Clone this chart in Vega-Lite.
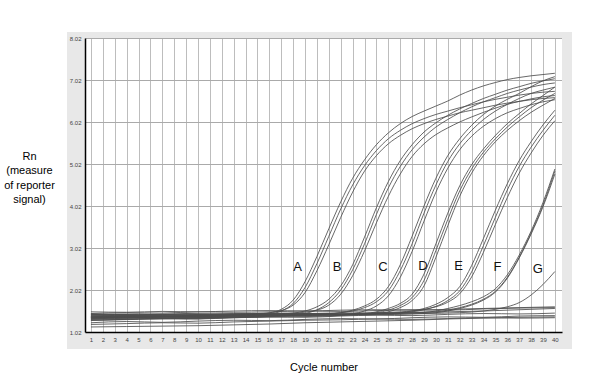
{
"$schema": "https://vega.github.io/schema/vega-lite/v6.json",
"width": 477,
"height": 294,
"autosize": {"type": "none"},
"padding": {"left": 85, "top": 38, "right": 38, "bottom": 50},
"background": "white",
"config": {"view": {"stroke": null, "fill": "white"}, "font": "Liberation Sans"},
"resolve": {"axis": {"x": "independent", "y": "independent"}},
"datasets": {
"curves": [
{"s":"A1","c":1,"v":1.36},{"s":"A1","c":5,"v":1.40},{"s":"A1","c":9,"v":1.38},{"s":"A1","c":13,"v":1.42},{"s":"A1","c":15,"v":1.44},{"s":"A1","c":16,"v":1.47},{"s":"A1","c":17,"v":1.56},{"s":"A1","c":18,"v":1.78},{"s":"A1","c":19,"v":2.22},{"s":"A1","c":20,"v":2.82},{"s":"A1","c":21,"v":3.48},{"s":"A1","c":22,"v":4.12},{"s":"A1","c":23,"v":4.68},{"s":"A1","c":24,"v":5.12},{"s":"A1","c":25,"v":5.48},{"s":"A1","c":26,"v":5.76},{"s":"A1","c":27,"v":5.98},{"s":"A1","c":28,"v":6.15},{"s":"A1","c":29,"v":6.28},{"s":"A1","c":30,"v":6.4},{"s":"A1","c":31,"v":6.52},{"s":"A1","c":32,"v":6.66},{"s":"A1","c":33,"v":6.78},{"s":"A1","c":34,"v":6.88},{"s":"A1","c":35,"v":6.96},{"s":"A1","c":36,"v":7.03},{"s":"A1","c":37,"v":7.08},{"s":"A1","c":38,"v":7.12},{"s":"A1","c":39,"v":7.15},{"s":"A1","c":40,"v":7.18},
{"s":"A2","c":1,"v":1.3},{"s":"A2","c":5,"v":1.33},{"s":"A2","c":9,"v":1.35},{"s":"A2","c":13,"v":1.38},{"s":"A2","c":15,"v":1.4},{"s":"A2","c":16,"v":1.44},{"s":"A2","c":17,"v":1.52},{"s":"A2","c":18,"v":1.7},{"s":"A2","c":19,"v":2.08},{"s":"A2","c":20,"v":2.65},{"s":"A2","c":21,"v":3.3},{"s":"A2","c":22,"v":3.95},{"s":"A2","c":23,"v":4.52},{"s":"A2","c":24,"v":4.98},{"s":"A2","c":25,"v":5.34},{"s":"A2","c":26,"v":5.62},{"s":"A2","c":27,"v":5.82},{"s":"A2","c":28,"v":5.98},{"s":"A2","c":29,"v":6.1},{"s":"A2","c":30,"v":6.2},{"s":"A2","c":31,"v":6.28},{"s":"A2","c":32,"v":6.36},{"s":"A2","c":33,"v":6.43},{"s":"A2","c":34,"v":6.5},{"s":"A2","c":35,"v":6.56},{"s":"A2","c":36,"v":6.61},{"s":"A2","c":37,"v":6.66},{"s":"A2","c":38,"v":6.7},{"s":"A2","c":39,"v":6.73},{"s":"A2","c":40,"v":6.75},
{"s":"A3","c":1,"v":1.42},{"s":"A3","c":5,"v":1.44},{"s":"A3","c":9,"v":1.42},{"s":"A3","c":13,"v":1.45},{"s":"A3","c":15,"v":1.46},{"s":"A3","c":16,"v":1.48},{"s":"A3","c":17,"v":1.53},{"s":"A3","c":18,"v":1.66},{"s":"A3","c":19,"v":1.96},{"s":"A3","c":20,"v":2.48},{"s":"A3","c":21,"v":3.1},{"s":"A3","c":22,"v":3.75},{"s":"A3","c":23,"v":4.35},{"s":"A3","c":24,"v":4.85},{"s":"A3","c":25,"v":5.22},{"s":"A3","c":26,"v":5.5},{"s":"A3","c":27,"v":5.7},{"s":"A3","c":28,"v":5.86},{"s":"A3","c":29,"v":5.98},{"s":"A3","c":30,"v":6.08},{"s":"A3","c":31,"v":6.16},{"s":"A3","c":32,"v":6.24},{"s":"A3","c":33,"v":6.3},{"s":"A3","c":34,"v":6.36},{"s":"A3","c":35,"v":6.42},{"s":"A3","c":36,"v":6.47},{"s":"A3","c":37,"v":6.51},{"s":"A3","c":38,"v":6.55},{"s":"A3","c":39,"v":6.58},{"s":"A3","c":40,"v":6.6},
{"s":"B1","c":1,"v":1.38},{"s":"B1","c":5,"v":1.36},{"s":"B1","c":9,"v":1.4},{"s":"B1","c":13,"v":1.42},{"s":"B1","c":17,"v":1.45},{"s":"B1","c":18,"v":1.47},{"s":"B1","c":19,"v":1.52},{"s":"B1","c":20,"v":1.62},{"s":"B1","c":21,"v":1.8},{"s":"B1","c":22,"v":2.12},{"s":"B1","c":23,"v":2.62},{"s":"B1","c":24,"v":3.28},{"s":"B1","c":25,"v":3.98},{"s":"B1","c":26,"v":4.6},{"s":"B1","c":27,"v":5.1},{"s":"B1","c":28,"v":5.48},{"s":"B1","c":29,"v":5.78},{"s":"B1","c":30,"v":6.0},{"s":"B1","c":31,"v":6.18},{"s":"B1","c":32,"v":6.33},{"s":"B1","c":33,"v":6.46},{"s":"B1","c":34,"v":6.58},{"s":"B1","c":35,"v":6.68},{"s":"B1","c":36,"v":6.78},{"s":"B1","c":37,"v":6.86},{"s":"B1","c":38,"v":6.94},{"s":"B1","c":39,"v":7.0},{"s":"B1","c":40,"v":7.05},
{"s":"B2","c":1,"v":1.32},{"s":"B2","c":5,"v":1.35},{"s":"B2","c":9,"v":1.33},{"s":"B2","c":13,"v":1.37},{"s":"B2","c":17,"v":1.4},{"s":"B2","c":18,"v":1.42},{"s":"B2","c":19,"v":1.46},{"s":"B2","c":20,"v":1.55},{"s":"B2","c":21,"v":1.72},{"s":"B2","c":22,"v":2.02},{"s":"B2","c":23,"v":2.5},{"s":"B2","c":24,"v":3.12},{"s":"B2","c":25,"v":3.82},{"s":"B2","c":26,"v":4.45},{"s":"B2","c":27,"v":4.96},{"s":"B2","c":28,"v":5.36},{"s":"B2","c":29,"v":5.66},{"s":"B2","c":30,"v":5.9},{"s":"B2","c":31,"v":6.08},{"s":"B2","c":32,"v":6.24},{"s":"B2","c":33,"v":6.38},{"s":"B2","c":34,"v":6.5},{"s":"B2","c":35,"v":6.6},{"s":"B2","c":36,"v":6.7},{"s":"B2","c":37,"v":6.78},{"s":"B2","c":38,"v":6.85},{"s":"B2","c":39,"v":6.91},{"s":"B2","c":40,"v":6.95},
{"s":"B3","c":1,"v":1.44},{"s":"B3","c":5,"v":1.42},{"s":"B3","c":9,"v":1.45},{"s":"B3","c":13,"v":1.44},{"s":"B3","c":17,"v":1.46},{"s":"B3","c":18,"v":1.47},{"s":"B3","c":19,"v":1.49},{"s":"B3","c":20,"v":1.54},{"s":"B3","c":21,"v":1.66},{"s":"B3","c":22,"v":1.92},{"s":"B3","c":23,"v":2.36},{"s":"B3","c":24,"v":2.95},{"s":"B3","c":25,"v":3.62},{"s":"B3","c":26,"v":4.25},{"s":"B3","c":27,"v":4.78},{"s":"B3","c":28,"v":5.2},{"s":"B3","c":29,"v":5.5},{"s":"B3","c":30,"v":5.72},{"s":"B3","c":31,"v":5.88},{"s":"B3","c":32,"v":6.02},{"s":"B3","c":33,"v":6.14},{"s":"B3","c":34,"v":6.25},{"s":"B3","c":35,"v":6.35},{"s":"B3","c":36,"v":6.44},{"s":"B3","c":37,"v":6.51},{"s":"B3","c":38,"v":6.57},{"s":"B3","c":39,"v":6.62},{"s":"B3","c":40,"v":6.65},
{"s":"C1","c":1,"v":1.35},{"s":"C1","c":5,"v":1.38},{"s":"C1","c":9,"v":1.36},{"s":"C1","c":13,"v":1.4},{"s":"C1","c":17,"v":1.42},{"s":"C1","c":21,"v":1.45},{"s":"C1","c":22,"v":1.48},{"s":"C1","c":23,"v":1.54},{"s":"C1","c":24,"v":1.64},{"s":"C1","c":25,"v":1.8},{"s":"C1","c":26,"v":2.1},{"s":"C1","c":27,"v":2.62},{"s":"C1","c":28,"v":3.3},{"s":"C1","c":29,"v":4.02},{"s":"C1","c":30,"v":4.68},{"s":"C1","c":31,"v":5.22},{"s":"C1","c":32,"v":5.62},{"s":"C1","c":33,"v":5.94},{"s":"C1","c":34,"v":6.2},{"s":"C1","c":35,"v":6.4},{"s":"C1","c":36,"v":6.56},{"s":"C1","c":37,"v":6.7},{"s":"C1","c":38,"v":6.86},{"s":"C1","c":39,"v":7.0},{"s":"C1","c":40,"v":7.1},
{"s":"C2","c":1,"v":1.4},{"s":"C2","c":5,"v":1.42},{"s":"C2","c":9,"v":1.4},{"s":"C2","c":13,"v":1.43},{"s":"C2","c":17,"v":1.44},{"s":"C2","c":21,"v":1.46},{"s":"C2","c":22,"v":1.48},{"s":"C2","c":23,"v":1.52},{"s":"C2","c":24,"v":1.6},{"s":"C2","c":25,"v":1.74},{"s":"C2","c":26,"v":2.0},{"s":"C2","c":27,"v":2.48},{"s":"C2","c":28,"v":3.12},{"s":"C2","c":29,"v":3.85},{"s":"C2","c":30,"v":4.52},{"s":"C2","c":31,"v":5.08},{"s":"C2","c":32,"v":5.5},{"s":"C2","c":33,"v":5.82},{"s":"C2","c":34,"v":6.08},{"s":"C2","c":35,"v":6.28},{"s":"C2","c":36,"v":6.44},{"s":"C2","c":37,"v":6.58},{"s":"C2","c":38,"v":6.7},{"s":"C2","c":39,"v":6.78},{"s":"C2","c":40,"v":6.85},
{"s":"C3","c":1,"v":1.3},{"s":"C3","c":5,"v":1.32},{"s":"C3","c":9,"v":1.34},{"s":"C3","c":13,"v":1.36},{"s":"C3","c":17,"v":1.38},{"s":"C3","c":21,"v":1.4},{"s":"C3","c":22,"v":1.42},{"s":"C3","c":23,"v":1.45},{"s":"C3","c":24,"v":1.52},{"s":"C3","c":25,"v":1.64},{"s":"C3","c":26,"v":1.88},{"s":"C3","c":27,"v":2.32},{"s":"C3","c":28,"v":2.94},{"s":"C3","c":29,"v":3.66},{"s":"C3","c":30,"v":4.35},{"s":"C3","c":31,"v":4.92},{"s":"C3","c":32,"v":5.36},{"s":"C3","c":33,"v":5.68},{"s":"C3","c":34,"v":5.92},{"s":"C3","c":35,"v":6.1},{"s":"C3","c":36,"v":6.24},{"s":"C3","c":37,"v":6.34},{"s":"C3","c":38,"v":6.43},{"s":"C3","c":39,"v":6.5},{"s":"C3","c":40,"v":6.55},
{"s":"D1","c":1,"v":1.38},{"s":"D1","c":5,"v":1.4},{"s":"D1","c":9,"v":1.38},{"s":"D1","c":13,"v":1.41},{"s":"D1","c":17,"v":1.43},{"s":"D1","c":21,"v":1.44},{"s":"D1","c":24,"v":1.46},{"s":"D1","c":25,"v":1.5},{"s":"D1","c":26,"v":1.58},{"s":"D1","c":27,"v":1.7},{"s":"D1","c":28,"v":1.92},{"s":"D1","c":29,"v":2.4},{"s":"D1","c":30,"v":3.12},{"s":"D1","c":31,"v":3.85},{"s":"D1","c":32,"v":4.5},{"s":"D1","c":33,"v":5.0},{"s":"D1","c":34,"v":5.38},{"s":"D1","c":35,"v":5.7},{"s":"D1","c":36,"v":5.98},{"s":"D1","c":37,"v":6.22},{"s":"D1","c":38,"v":6.45},{"s":"D1","c":39,"v":6.65},{"s":"D1","c":40,"v":6.85},
{"s":"D2","c":1,"v":1.45},{"s":"D2","c":5,"v":1.43},{"s":"D2","c":9,"v":1.46},{"s":"D2","c":13,"v":1.44},{"s":"D2","c":17,"v":1.47},{"s":"D2","c":21,"v":1.45},{"s":"D2","c":24,"v":1.45},{"s":"D2","c":25,"v":1.48},{"s":"D2","c":26,"v":1.54},{"s":"D2","c":27,"v":1.65},{"s":"D2","c":28,"v":1.84},{"s":"D2","c":29,"v":2.25},{"s":"D2","c":30,"v":2.96},{"s":"D2","c":31,"v":3.7},{"s":"D2","c":32,"v":4.38},{"s":"D2","c":33,"v":4.9},{"s":"D2","c":34,"v":5.3},{"s":"D2","c":35,"v":5.62},{"s":"D2","c":36,"v":5.9},{"s":"D2","c":37,"v":6.14},{"s":"D2","c":38,"v":6.36},{"s":"D2","c":39,"v":6.54},{"s":"D2","c":40,"v":6.7},
{"s":"D3","c":1,"v":1.33},{"s":"D3","c":5,"v":1.36},{"s":"D3","c":9,"v":1.35},{"s":"D3","c":13,"v":1.38},{"s":"D3","c":17,"v":1.4},{"s":"D3","c":21,"v":1.42},{"s":"D3","c":24,"v":1.44},{"s":"D3","c":25,"v":1.46},{"s":"D3","c":26,"v":1.5},{"s":"D3","c":27,"v":1.6},{"s":"D3","c":28,"v":1.77},{"s":"D3","c":29,"v":2.12},{"s":"D3","c":30,"v":2.8},{"s":"D3","c":31,"v":3.55},{"s":"D3","c":32,"v":4.25},{"s":"D3","c":33,"v":4.8},{"s":"D3","c":34,"v":5.22},{"s":"D3","c":35,"v":5.55},{"s":"D3","c":36,"v":5.82},{"s":"D3","c":37,"v":6.05},{"s":"D3","c":38,"v":6.25},{"s":"D3","c":39,"v":6.42},{"s":"D3","c":40,"v":6.58},
{"s":"E1","c":1,"v":1.4},{"s":"E1","c":5,"v":1.38},{"s":"E1","c":9,"v":1.41},{"s":"E1","c":13,"v":1.4},{"s":"E1","c":17,"v":1.43},{"s":"E1","c":21,"v":1.44},{"s":"E1","c":25,"v":1.46},{"s":"E1","c":27,"v":1.48},{"s":"E1","c":28,"v":1.52},{"s":"E1","c":29,"v":1.58},{"s":"E1","c":30,"v":1.68},{"s":"E1","c":31,"v":1.84},{"s":"E1","c":32,"v":2.1},{"s":"E1","c":33,"v":2.6},{"s":"E1","c":34,"v":3.25},{"s":"E1","c":35,"v":3.92},{"s":"E1","c":36,"v":4.55},{"s":"E1","c":37,"v":5.1},{"s":"E1","c":38,"v":5.55},{"s":"E1","c":39,"v":5.95},{"s":"E1","c":40,"v":6.3},
{"s":"E2","c":1,"v":1.36},{"s":"E2","c":5,"v":1.39},{"s":"E2","c":9,"v":1.37},{"s":"E2","c":13,"v":1.4},{"s":"E2","c":17,"v":1.41},{"s":"E2","c":21,"v":1.43},{"s":"E2","c":25,"v":1.45},{"s":"E2","c":27,"v":1.47},{"s":"E2","c":28,"v":1.5},{"s":"E2","c":29,"v":1.55},{"s":"E2","c":30,"v":1.63},{"s":"E2","c":31,"v":1.77},{"s":"E2","c":32,"v":2.0},{"s":"E2","c":33,"v":2.45},{"s":"E2","c":34,"v":3.08},{"s":"E2","c":35,"v":3.75},{"s":"E2","c":36,"v":4.4},{"s":"E2","c":37,"v":4.96},{"s":"E2","c":38,"v":5.42},{"s":"E2","c":39,"v":5.82},{"s":"E2","c":40,"v":6.18},
{"s":"E3","c":1,"v":1.44},{"s":"E3","c":5,"v":1.45},{"s":"E3","c":9,"v":1.43},{"s":"E3","c":13,"v":1.46},{"s":"E3","c":17,"v":1.45},{"s":"E3","c":21,"v":1.47},{"s":"E3","c":25,"v":1.48},{"s":"E3","c":27,"v":1.5},{"s":"E3","c":28,"v":1.52},{"s":"E3","c":29,"v":1.56},{"s":"E3","c":30,"v":1.62},{"s":"E3","c":31,"v":1.73},{"s":"E3","c":32,"v":1.93},{"s":"E3","c":33,"v":2.33},{"s":"E3","c":34,"v":2.92},{"s":"E3","c":35,"v":3.58},{"s":"E3","c":36,"v":4.22},{"s":"E3","c":37,"v":4.8},{"s":"E3","c":38,"v":5.28},{"s":"E3","c":39,"v":5.7},{"s":"E3","c":40,"v":6.05},
{"s":"F1","c":1,"v":1.38},{"s":"F1","c":5,"v":1.41},{"s":"F1","c":9,"v":1.39},{"s":"F1","c":13,"v":1.42},{"s":"F1","c":17,"v":1.41},{"s":"F1","c":21,"v":1.44},{"s":"F1","c":25,"v":1.45},{"s":"F1","c":28,"v":1.47},{"s":"F1","c":30,"v":1.52},{"s":"F1","c":31,"v":1.58},{"s":"F1","c":32,"v":1.65},{"s":"F1","c":33,"v":1.74},{"s":"F1","c":34,"v":1.86},{"s":"F1","c":35,"v":2.05},{"s":"F1","c":36,"v":2.38},{"s":"F1","c":37,"v":2.85},{"s":"F1","c":38,"v":3.42},{"s":"F1","c":39,"v":4.1},{"s":"F1","c":40,"v":4.9},
{"s":"F2","c":1,"v":1.34},{"s":"F2","c":5,"v":1.36},{"s":"F2","c":9,"v":1.38},{"s":"F2","c":13,"v":1.37},{"s":"F2","c":17,"v":1.4},{"s":"F2","c":21,"v":1.41},{"s":"F2","c":25,"v":1.43},{"s":"F2","c":28,"v":1.45},{"s":"F2","c":30,"v":1.48},{"s":"F2","c":31,"v":1.52},{"s":"F2","c":32,"v":1.58},{"s":"F2","c":33,"v":1.66},{"s":"F2","c":34,"v":1.78},{"s":"F2","c":35,"v":1.97},{"s":"F2","c":36,"v":2.3},{"s":"F2","c":37,"v":2.78},{"s":"F2","c":38,"v":3.35},{"s":"F2","c":39,"v":4.0},{"s":"F2","c":40,"v":4.78},
{"s":"F3","c":1,"v":1.42},{"s":"F3","c":5,"v":1.4},{"s":"F3","c":9,"v":1.43},{"s":"F3","c":13,"v":1.44},{"s":"F3","c":17,"v":1.45},{"s":"F3","c":21,"v":1.44},{"s":"F3","c":25,"v":1.46},{"s":"F3","c":28,"v":1.48},{"s":"F3","c":30,"v":1.5},{"s":"F3","c":31,"v":1.54},{"s":"F3","c":32,"v":1.6},{"s":"F3","c":33,"v":1.68},{"s":"F3","c":34,"v":1.8},{"s":"F3","c":35,"v":1.99},{"s":"F3","c":36,"v":2.32},{"s":"F3","c":37,"v":2.8},{"s":"F3","c":38,"v":3.38},{"s":"F3","c":39,"v":4.04},{"s":"F3","c":40,"v":4.85},
{"s":"G1","c":1,"v":1.36},{"s":"G1","c":5,"v":1.38},{"s":"G1","c":9,"v":1.4},{"s":"G1","c":13,"v":1.41},{"s":"G1","c":17,"v":1.42},{"s":"G1","c":21,"v":1.43},{"s":"G1","c":25,"v":1.44},{"s":"G1","c":29,"v":1.46},{"s":"G1","c":32,"v":1.48},{"s":"G1","c":34,"v":1.52},{"s":"G1","c":35,"v":1.56},{"s":"G1","c":36,"v":1.62},{"s":"G1","c":37,"v":1.72},{"s":"G1","c":38,"v":1.9},{"s":"G1","c":39,"v":2.15},{"s":"G1","c":40,"v":2.46},
{"s":"N1","c":1,"v":1.14},{"s":"N1","c":4,"v":1.15},{"s":"N1","c":7,"v":1.16},{"s":"N1","c":10,"v":1.17},{"s":"N1","c":13,"v":1.19},{"s":"N1","c":16,"v":1.21},{"s":"N1","c":19,"v":1.24},{"s":"N1","c":22,"v":1.26},{"s":"N1","c":25,"v":1.28},{"s":"N1","c":28,"v":1.3},{"s":"N1","c":31,"v":1.33},{"s":"N1","c":34,"v":1.35},{"s":"N1","c":37,"v":1.37},{"s":"N1","c":40,"v":1.38},
{"s":"N2","c":1,"v":1.24},{"s":"N2","c":4,"v":1.27},{"s":"N2","c":7,"v":1.25},{"s":"N2","c":10,"v":1.28},{"s":"N2","c":13,"v":1.3},{"s":"N2","c":16,"v":1.29},{"s":"N2","c":19,"v":1.32},{"s":"N2","c":22,"v":1.34},{"s":"N2","c":25,"v":1.33},{"s":"N2","c":28,"v":1.36},{"s":"N2","c":31,"v":1.38},{"s":"N2","c":34,"v":1.37},{"s":"N2","c":37,"v":1.4},{"s":"N2","c":40,"v":1.41},
{"s":"N3","c":1,"v":1.3},{"s":"N3","c":4,"v":1.32},{"s":"N3","c":7,"v":1.35},{"s":"N3","c":10,"v":1.33},{"s":"N3","c":13,"v":1.36},{"s":"N3","c":16,"v":1.38},{"s":"N3","c":19,"v":1.37},{"s":"N3","c":22,"v":1.4},{"s":"N3","c":25,"v":1.42},{"s":"N3","c":28,"v":1.41},{"s":"N3","c":31,"v":1.44},{"s":"N3","c":34,"v":1.46},{"s":"N3","c":37,"v":1.45},{"s":"N3","c":40,"v":1.47},
{"s":"N4","c":1,"v":1.46},{"s":"N4","c":4,"v":1.48},{"s":"N4","c":7,"v":1.47},{"s":"N4","c":10,"v":1.5},{"s":"N4","c":13,"v":1.49},{"s":"N4","c":16,"v":1.5},{"s":"N4","c":19,"v":1.52},{"s":"N4","c":22,"v":1.51},{"s":"N4","c":25,"v":1.53},{"s":"N4","c":28,"v":1.55},{"s":"N4","c":31,"v":1.54},{"s":"N4","c":34,"v":1.57},{"s":"N4","c":37,"v":1.59},{"s":"N4","c":40,"v":1.6},
{"s":"N5","c":1,"v":1.38},{"s":"N5","c":4,"v":1.36},{"s":"N5","c":7,"v":1.39},{"s":"N5","c":10,"v":1.41},{"s":"N5","c":13,"v":1.4},{"s":"N5","c":16,"v":1.43},{"s":"N5","c":19,"v":1.45},{"s":"N5","c":22,"v":1.44},{"s":"N5","c":25,"v":1.47},{"s":"N5","c":28,"v":1.49},{"s":"N5","c":31,"v":1.5},{"s":"N5","c":34,"v":1.52},{"s":"N5","c":37,"v":1.55},{"s":"N5","c":40,"v":1.58},
{"s":"N6","c":1,"v":1.2},{"s":"N6","c":4,"v":1.22},{"s":"N6","c":7,"v":1.24},{"s":"N6","c":10,"v":1.23},{"s":"N6","c":13,"v":1.26},{"s":"N6","c":16,"v":1.28},{"s":"N6","c":19,"v":1.3},{"s":"N6","c":22,"v":1.31},{"s":"N6","c":25,"v":1.33},{"s":"N6","c":28,"v":1.32},{"s":"N6","c":31,"v":1.34},{"s":"N6","c":34,"v":1.36},{"s":"N6","c":37,"v":1.35},{"s":"N6","c":40,"v":1.36},
{"s":"N7","c":1,"v":1.5},{"s":"N7","c":4,"v":1.49},{"s":"N7","c":7,"v":1.51},{"s":"N7","c":10,"v":1.5},{"s":"N7","c":13,"v":1.52},{"s":"N7","c":16,"v":1.53},{"s":"N7","c":19,"v":1.52},{"s":"N7","c":22,"v":1.54},{"s":"N7","c":25,"v":1.55},{"s":"N7","c":28,"v":1.54},{"s":"N7","c":31,"v":1.56},{"s":"N7","c":34,"v":1.58},{"s":"N7","c":37,"v":1.6},{"s":"N7","c":40,"v":1.62}
],
"letters": [
{"t":"A","c":18.38,"v":2.57},{"t":"B","c":21.69,"v":2.57},{"t":"C","c":25.54,"v":2.57},{"t":"D","c":28.9,"v":2.58},{"t":"E","c":31.9,"v":2.58},{"t":"F","c":35.18,"v":2.57},{"t":"G","c":38.56,"v":2.51}
]
},
"layer": [
{
"data": {"values": [{}]},
"mark": {"type": "rect", "fill": "#e8e8e8"},
"encoding": {
"x": {"datum": -1.01, "type": "quantitative", "scale": {"domain": [0.5, 40.6], "nice": false, "zero": false},
 "axis": {"orient": "bottom", "grid": true, "gridColor": "#bdbdbd", "gridWidth": 1, "labels": false, "ticks": false, "domain": false, "title": null, "zindex": 0,
 "values": [1,2,3,4,5,6,7,8,9,10,11,12,13,14,15,16,17,18,19,20,21,22,23,24,25,26,27,28,29,30,31,32,33,34,35,36,37,38,39,40,40.6]}},
"x2": {"datum": 0.5},
"y": {"datum": 0.615, "type": "quantitative", "scale": {"domain": [1.02, 8.02], "nice": false, "zero": false},
 "axis": {"orient": "left", "grid": true, "gridColor": "#aaaaaa", "gridWidth": 1, "labels": false, "ticks": false, "domain": false, "title": null, "zindex": 0,
 "values": [1.02, 2.02, 3.02, 4.02, 5.02, 6.02, 7.02, 8.02]}},
"y2": {"datum": 8.163}
}
},
{
"data": {"values": [{}]},
"mark": {"type": "rect", "fill": "#e8e8e8"},
"encoding": {
"x": {"datum": 40.6, "type": "quantitative", "scale": {"domain": [0.5, 40.6], "nice": false, "zero": false}, "axis": null},
"x2": {"datum": 41.44},
"y": {"datum": 0.615, "type": "quantitative", "scale": {"domain": [1.02, 8.02], "nice": false, "zero": false}, "axis": null},
"y2": {"datum": 8.163}
}
},
{
"data": {"values": [{}]},
"mark": {"type": "rect", "fill": "#e8e8e8"},
"encoding": {
"x": {"datum": 0.5, "type": "quantitative", "scale": {"domain": [0.5, 40.6], "nice": false, "zero": false}, "axis": null},
"x2": {"datum": 40.6},
"y": {"datum": 8.02, "type": "quantitative", "scale": {"domain": [1.02, 8.02], "nice": false, "zero": false}, "axis": null},
"y2": {"datum": 8.163}
}
},
{
"data": {"values": [{}]},
"mark": {"type": "rect", "fill": "#e8e8e8"},
"encoding": {
"x": {"datum": 0.5, "type": "quantitative", "scale": {"domain": [0.5, 40.6], "nice": false, "zero": false}, "axis": null},
"x2": {"datum": 40.6},
"y": {"datum": 0.615, "type": "quantitative", "scale": {"domain": [1.02, 8.02], "nice": false, "zero": false}, "axis": null},
"y2": {"datum": 1.02}
}
},
{
"data": {"name": "curves"},
"mark": {"type": "line", "interpolate": "monotone", "stroke": "#4d4d4d", "strokeWidth": 0.85},
"encoding": {
"x": {"field": "c", "type": "quantitative", "scale": {"domain": [0.5, 40.6], "nice": false, "zero": false},
 "axis": {"orient": "bottom", "grid": false, "ticks": false, "domain": true, "domainColor": "#000000", "domainWidth": 1.5, "zindex": 1,
 "values": [1,2,3,4,5,6,7,8,9,10,11,12,13,14,15,16,17,18,19,20,21,22,23,24,25,26,27,28,29,30,31,32,33,34,35,36,37,38,39,40],
 "format": "d", "labelFontSize": 6, "labelColor": "#444444", "labelPadding": 4, "labelOverlap": false, "labelFlush": false,
 "title": "Cycle number", "titleFontSize": 11, "titleFontWeight": "normal", "titleColor": "#000000", "titleY": 38, "titleBaseline": "alphabetic"}},
"y": {"field": "v", "type": "quantitative", "scale": {"domain": [1.02, 8.02], "nice": false, "zero": false},
 "axis": {"orient": "left", "grid": false, "ticks": false, "domain": true, "domainColor": "#000000", "domainWidth": 1.5, "zindex": 1,
 "values": [1.02, 2.02, 3.02, 4.02, 5.02, 6.02, 7.02, 8.02],
 "format": ".2f", "labelFontSize": 6, "labelColor": "#444444", "labelPadding": 4, "labelOverlap": false,
 "title": ["Rn", "(measure", "of reporter", "signal)"], "titleAngle": 0, "titleAlign": "center", "titleBaseline": "top", "titleX": -56, "titleY": 112,
 "titleFontSize": 11, "titleFontWeight": "normal", "titleLineHeight": 14.5, "titleColor": "#000000"}},
"detail": {"field": "s"}
}
},
{
"data": {"name": "letters"},
"mark": {"type": "text", "fontSize": 13, "color": "#111111", "align": "center", "baseline": "middle"},
"encoding": {
"x": {"field": "c", "type": "quantitative", "scale": {"domain": [0.5, 40.6], "nice": false, "zero": false}, "axis": null},
"y": {"field": "v", "type": "quantitative", "scale": {"domain": [1.02, 8.02], "nice": false, "zero": false}, "axis": null},
"text": {"field": "t"}
}
}
]
}
